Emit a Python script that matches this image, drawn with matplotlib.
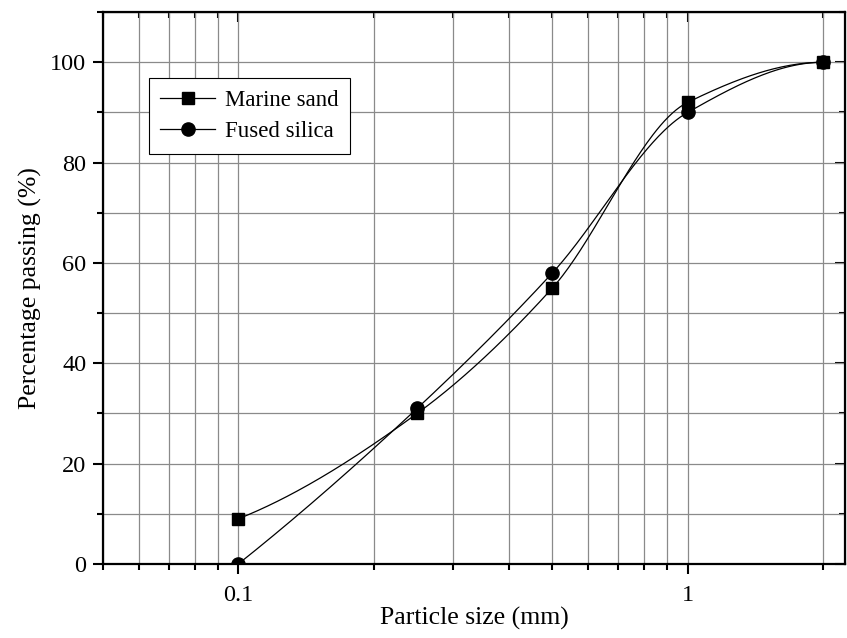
import numpy as np
import matplotlib
matplotlib.use("Agg")
import matplotlib.pyplot as plt
from matplotlib.ticker import FixedLocator, NullFormatter, MultipleLocator

plt.rcParams['font.family'] = ['Liberation Serif', 'DejaVu Serif']

# particle sizes (mm) and percentage passing
sizes = [0.1, 0.25, 0.5, 1, 2]
marine_sand = [9, 30, 55, 92, 100]
fused_silica = [0, 31, 58, 90, 100]


def pchip(x, y, xn):
    # monotone cubic through the data, used only to draw the smooth connecting line
    x = np.asarray(x, float)
    y = np.asarray(y, float)
    h = np.diff(x)
    d = np.diff(y) / h
    n = len(x)
    m = np.zeros(n)
    for k in range(1, n - 1):
        if d[k - 1] * d[k] > 0:
            w1 = 2 * h[k] + h[k - 1]
            w2 = h[k] + 2 * h[k - 1]
            m[k] = (w1 + w2) / (w1 / d[k - 1] + w2 / d[k])

    def end(h0, h1, d0, d1):
        v = ((2 * h0 + h1) * d0 - h0 * d1) / (h0 + h1)
        if np.sign(v) != np.sign(d0):
            v = 0
        elif np.sign(d0) != np.sign(d1) and abs(v) > abs(3 * d0):
            v = 3 * d0
        return v

    m[0] = end(h[0], h[1], d[0], d[1])
    m[-1] = end(h[-1], h[-2], d[-1], d[-2])
    idx = np.clip(np.searchsorted(x, xn) - 1, 0, n - 2)
    t = (xn - x[idx]) / h[idx]
    h00 = 2 * t**3 - 3 * t**2 + 1
    h10 = t**3 - 2 * t**2 + t
    h01 = -2 * t**3 + 3 * t**2
    h11 = t**3 - t**2
    return h00 * y[idx] + h10 * h[idx] * m[idx] + h01 * y[idx + 1] + h11 * h[idx] * m[idx + 1]


fig = plt.figure(figsize=(8.47, 6.38), dpi=100)
ax = fig.add_axes([0.1216, 0.116, 0.876, 0.865])

lx = np.log10(sizes)
xs = np.linspace(lx[0], lx[-1], 300)
for vals, mk, ms, name in [(marine_sand, 's', 8.5, 'Marine sand'),
                           (fused_silica, 'o', 9.5, 'Fused silica')]:
    ax.plot(10**xs, pchip(lx, vals, xs), color='black', lw=0.9, zorder=3)
    ax.plot(sizes, vals, linestyle='none', marker=mk, ms=ms, color='black', zorder=4)
    # legend proxy
    ax.plot([], [], color='black', lw=0.9, marker=mk, ms=ms, label=name)

ax.set_xscale('log')
ax.set_xlim(0.05, 2.24)
ax.set_ylim(0, 110)

ax.xaxis.set_major_locator(FixedLocator([0.1, 1]))
ax.set_xticklabels(['0.1', '1'])
minors = [0.05, 0.06, 0.07, 0.08, 0.09, 0.2, 0.3, 0.4, 0.5, 0.6, 0.7, 0.8, 0.9, 2]
ax.xaxis.set_minor_locator(FixedLocator(minors))
ax.xaxis.set_minor_formatter(NullFormatter())
ax.yaxis.set_major_locator(MultipleLocator(20))
ax.yaxis.set_minor_locator(MultipleLocator(10))

ax.grid(True, which='both', color='#8a8a8a', lw=0.9)
ax.set_axisbelow(True)

ax.tick_params(axis='both', which='major', direction='out', length=7, width=1.5,
               labelsize=17.5)
ax.tick_params(axis='x', which='major', pad=8)
ax.tick_params(axis='y', which='major', pad=5)
ax.tick_params(axis='both', which='minor', direction='out', length=4, width=1.5)
for sp in ax.spines.values():
    sp.set_linewidth(1.6)

# inward ticks on top and right
ax2 = ax.secondary_xaxis('top')
ax2.set_xticks([0.1, 1])
ax2.set_xticks(minors, minor=True)
ax2.tick_params(which='both', direction='in', labeltop=False, width=1.5)
ax2.tick_params(which='major', length=7)
ax2.tick_params(which='minor', length=4)
ax2.xaxis.set_major_formatter(NullFormatter())
ax2.xaxis.set_minor_formatter(NullFormatter())
ay2 = ax.secondary_yaxis('right')
ay2.yaxis.set_major_locator(MultipleLocator(20))
ay2.yaxis.set_minor_locator(MultipleLocator(10))
ay2.tick_params(which='both', direction='in', labelright=False, width=1.5)
ay2.tick_params(which='major', length=7)
ay2.tick_params(which='minor', length=4)

ax.set_xlabel('Particle size (mm)', fontsize=18.5, labelpad=1)
ax.set_ylabel('Percentage passing (%)', fontsize=18.5, labelpad=6)

leg = ax.legend(loc='upper left', bbox_to_anchor=(0.062, 0.880), borderaxespad=0,
                fontsize=16.5, frameon=True, fancybox=False, framealpha=1,
                edgecolor='black', handlelength=2.4, handletextpad=0.4,
                borderpad=0.5, labelspacing=0.45)
leg.get_frame().set_linewidth(0.8)

fig.savefig('out.png', dpi=100)
